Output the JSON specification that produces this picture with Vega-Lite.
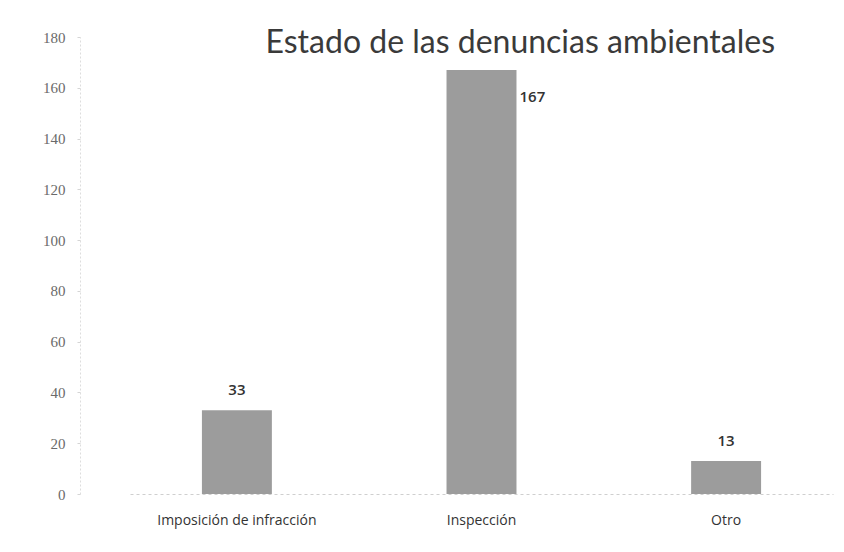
{
  "$schema": "https://vega.github.io/schema/vega-lite/v6.json",
  "autosize": "none",
  "width": 703,
  "height": 457,
  "padding": {"left": 130, "top": 37, "right": 11, "bottom": 58},
  "background": "white",
  "title": {
    "text": "Estado de las denuncias ambientales",
    "anchor": "start",
    "dx": 223,
    "dy": 37,
    "offset": -18,
    "baseline": "alphabetic",
    "font": "Lato",
    "fontSize": 32,
    "fontWeight": "normal",
    "color": "#3a3a3a"
  },
  "data": {
    "values": [
      {"estado": "Imposición de infracción", "denuncias": 33},
      {"estado": "Inspección", "denuncias": 167},
      {"estado": "Otro", "denuncias": 13}
    ]
  },
  "encoding": {
    "x": {
      "field": "estado",
      "type": "nominal",
      "sort": null,
      "scale": {"paddingInner": 0.714, "paddingOuter": 0.294},
      "axis": {
        "title": null,
        "labelAngle": 0,
        "labelFont": "Open Sans",
        "labelFontSize": 14,
        "labelColor": "#333333",
        "labelDx": -30,
        "labelPadding": 19,
        "ticks": false,
        "domainColor": "#cfcfcf",
        "domainDash": [3, 3]
      }
    },
    "y": {
      "field": "denuncias",
      "type": "quantitative",
      "scale": {"domain": [0, 180]},
      "axis": {
        "title": null,
        "values": [0, 20, 40, 60, 80, 100, 120, 140, 160, 180],
        "grid": false,
        "offset": 50,
        "labelFont": "Liberation Serif",
        "labelFontSize": 15,
        "labelColor": "#6a6a6a",
        "labelPadding": 12,
        "tickSize": 3,
        "tickColor": "#d5d5d5",
        "domainColor": "#dddddd",
        "domainDash": [2, 2]
      }
    }
  },
  "layer": [
    {"mark": {"type": "bar", "color": "#9c9c9c"}},
    {
      "transform": [{"filter": "datum.denuncias < 100"}],
      "mark": {
        "type": "text",
        "dy": -20,
        "font": "Open Sans",
        "fontSize": 15,
        "fontWeight": 600,
        "color": "#333333"
      },
      "encoding": {"text": {"field": "denuncias", "type": "quantitative"}}
    },
    {
      "transform": [{"filter": "datum.denuncias >= 100"}],
      "mark": {
        "type": "text",
        "align": "left",
        "dx": 38,
        "dy": 27,
        "font": "Open Sans",
        "fontSize": 15,
        "fontWeight": 600,
        "color": "#333333"
      },
      "encoding": {"text": {"field": "denuncias", "type": "quantitative"}}
    }
  ],
  "config": {"view": {"stroke": null}}
}
